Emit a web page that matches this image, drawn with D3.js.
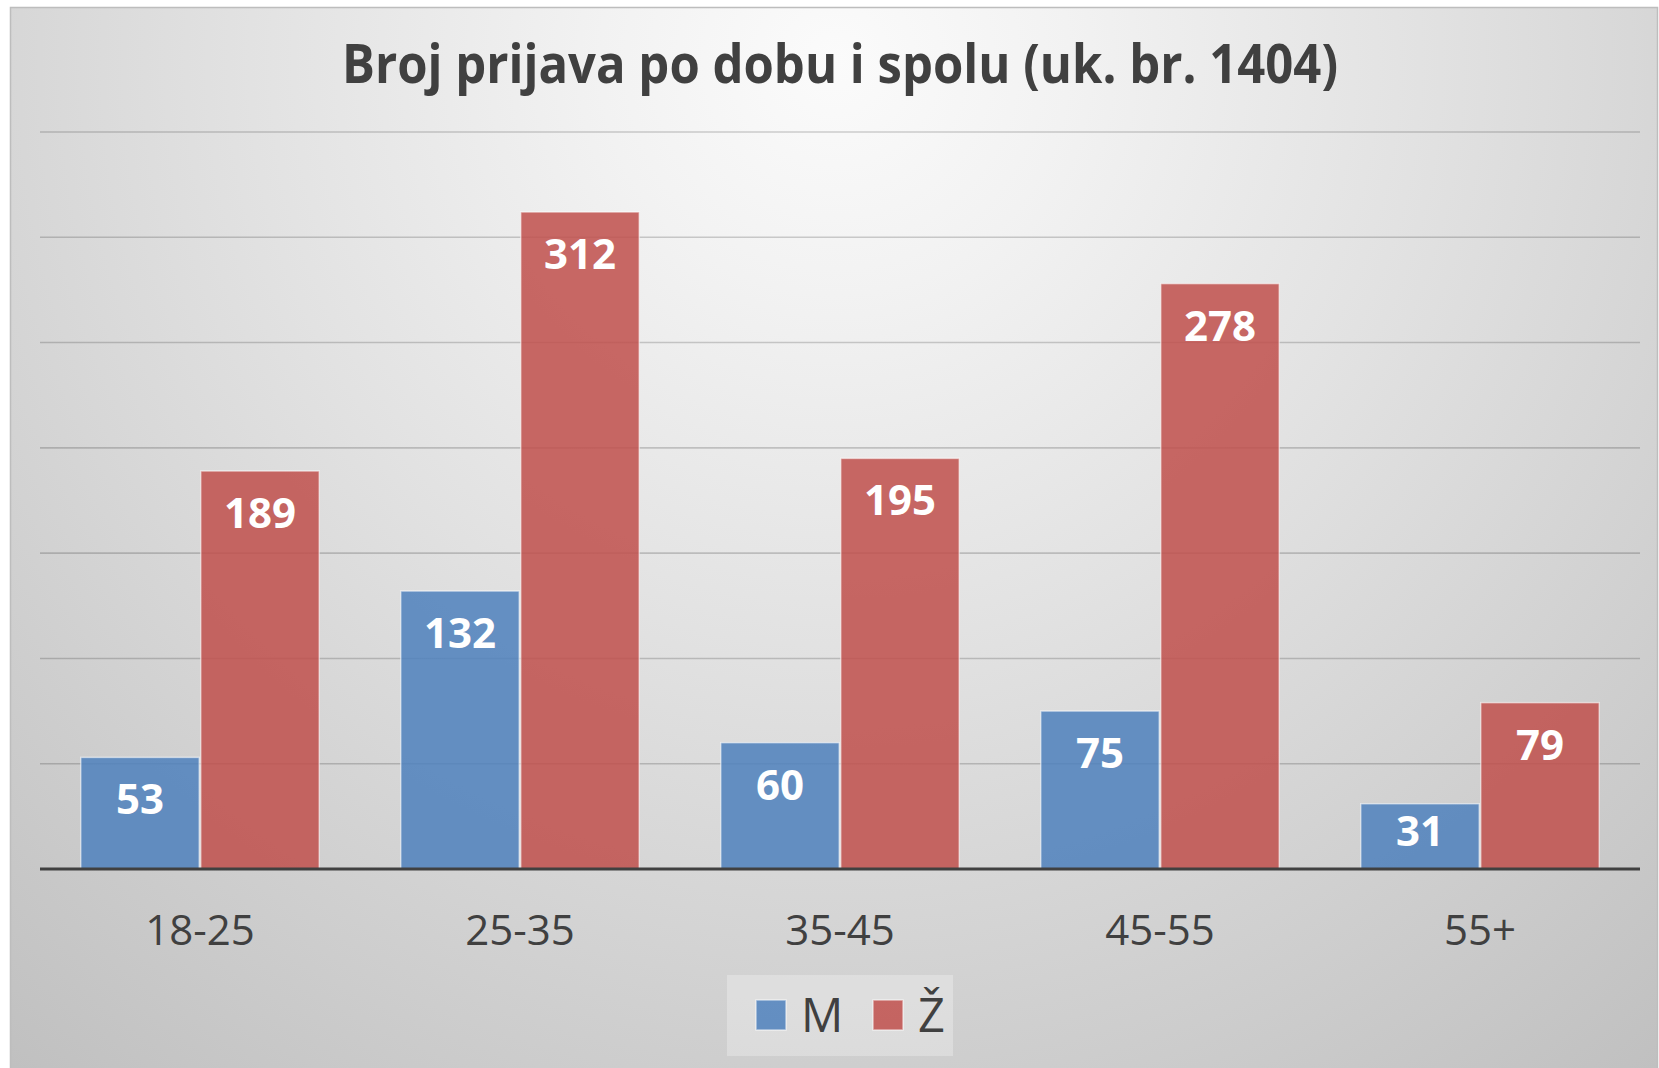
<!DOCTYPE html>
<html>
<head>
<meta charset="utf-8">
<script src="https://cdnjs.cloudflare.com/ajax/libs/d3/7.8.5/d3.min.js"></script>
<style>
  html, body { margin: 0; padding: 0; background: #ffffff; }
  svg { display: block; }
</style>
</head>
<body>
<svg id="chart" width="1659" height="1068"></svg>
<script>
const title = "Broj prijava po dobu i spolu (uk. br. 1404)";
const categories = ["18-25", "25-35", "35-45", "45-55", "55+"];
const seriesNames = ["M", "Ž"];
const valuesM = [53, 132, 60, 75, 31];
const valuesZ = [189, 312, 195, 278, 79];
const gridTicks = [0, 50, 100, 150, 200, 250, 300, 350];
const colors = ["#4F81BD", "#C0504D"];

const W = 1659, H = 1068;
const margin = { left: 40, right: 19, top: 132, bottom: 199 };
const plotW = W - margin.left - margin.right;   // 1600
const plotBottom = H - margin.bottom;            // 869

const svg = d3.select("#chart");
const defs = svg.append("defs");
const rg = defs.append("radialGradient")
  .attr("id", "bg").attr("gradientUnits", "userSpaceOnUse")
  .attr("cx", 835).attr("cy", 60).attr("r", 1300);
[[0, "#fbfbfb"], [0.18, "#f2f2f2"], [0.45, "#e2e2e2"], [0.66, "#d5d5d5"], [1, "#c0c0c0"]]
  .forEach(([o, c]) => rg.append("stop").attr("offset", o).attr("stop-color", c));

// Chart frame
svg.append("rect")
  .attr("x", 10.5).attr("y", 7.5).attr("width", 1647).attr("height", 1070)
  .attr("fill", "url(#bg)").attr("stroke", "#bdbdbd").attr("stroke-width", 1.5);

const data = categories.map((c, i) => ({ cat: c, vals: [valuesM[i], valuesZ[i]] }));

const x0 = d3.scaleBand().domain(categories)
  .range([margin.left, margin.left + plotW])
  .paddingInner(0.25).paddingOuter(0.125);
const x1 = d3.scaleBand().domain([0, 1]).range([0, x0.bandwidth()]).padding(0);
const y = d3.scaleLinear().domain([0, 350]).range([plotBottom, margin.top]);

// Gridlines
svg.append("g").selectAll("line").data(gridTicks.filter(t => t > 0)).join("line")
  .attr("x1", margin.left).attr("x2", margin.left + plotW)
  .attr("y1", d => y(d)).attr("y2", d => y(d))
  .attr("stroke", "#000").attr("stroke-opacity", 0.18).attr("stroke-width", 1.6);

// Title
const t = svg.append("text")
  .attr("x", 840).attr("y", 83)
  .attr("text-anchor", "middle")
  .attr("font-family", "'Open Sans', 'Noto Sans', sans-serif")
  .attr("font-weight", 700).attr("font-size", 53)
  .attr("fill", "#404040")
  .text(title);
t.attr("textLength", 996).attr("lengthAdjust", "spacingAndGlyphs");

// Bars
const groups = svg.append("g").selectAll("g").data(data).join("g")
  .attr("transform", d => `translate(${x0(d.cat)},0)`);

groups.selectAll("rect").data(d => d.vals.map((v, i) => ({ v, i }))).join("rect")
  .attr("x", d => x1(d.i) + 0.75)
  .attr("width", x1.bandwidth() - 1.5)
  .attr("y", d => y(d.v))
  .attr("height", d => plotBottom - y(d.v))
  .attr("fill", d => colors[d.i]).attr("fill-opacity", 0.86)
  .attr("stroke", "#ffffff").attr("stroke-opacity", 0.55).attr("stroke-width", 1.5);

// Labels: inside end, but kept within the bar for short bars
groups.selectAll("text").data(d => d.vals.map((v, i) => ({ v, i }))).join("text")
  .attr("x", d => x1(d.i) + x1.bandwidth() / 2)
  .attr("y", d => Math.min(y(d.v) + 41, plotBottom - 39) + 16)
  .attr("text-anchor", "middle")
  .attr("font-family", "'Open Sans', 'Noto Sans', sans-serif")
  .attr("font-weight", 700).attr("font-size", 42)
  .attr("fill", "#ffffff")
  .text(d => d.v);

// X axis
const xAxis = d3.axisBottom(x0).tickSize(0).tickPadding(0);
const ax = svg.append("g").attr("transform", `translate(0,${plotBottom})`).call(xAxis);
ax.select(".domain").attr("stroke", "#404040").attr("stroke-width", 3.2)
  .attr("d", `M${margin.left},0H${margin.left + plotW}`);
ax.selectAll(".tick text")
  .attr("y", 76).attr("dy", null)
  .attr("font-family", "'Open Sans', 'Noto Sans', sans-serif")
  .attr("font-size", 42).attr("fill", "#404040");

// Legend
const lg = svg.append("g");
lg.append("rect").attr("x", 727).attr("y", 975).attr("width", 226).attr("height", 81)
  .attr("fill", "#ffffff").attr("fill-opacity", 0.28);
const legX = [756, 873];
seriesNames.forEach((n, i) => {
  lg.append("rect").attr("x", legX[i]).attr("y", 1000).attr("width", 30).attr("height", 30)
    .attr("fill", colors[i]).attr("fill-opacity", 0.86)
    .attr("stroke", "#ffffff").attr("stroke-opacity", 0.55).attr("stroke-width", 1.5);
  lg.append("text").attr("x", legX[i] + 45).attr("y", 1032)
    .attr("font-family", "'Open Sans', 'Noto Sans', sans-serif")
    .attr("font-size", 47).attr("fill", "#404040")
    .text(n);
});
</script>
</body>
</html>
